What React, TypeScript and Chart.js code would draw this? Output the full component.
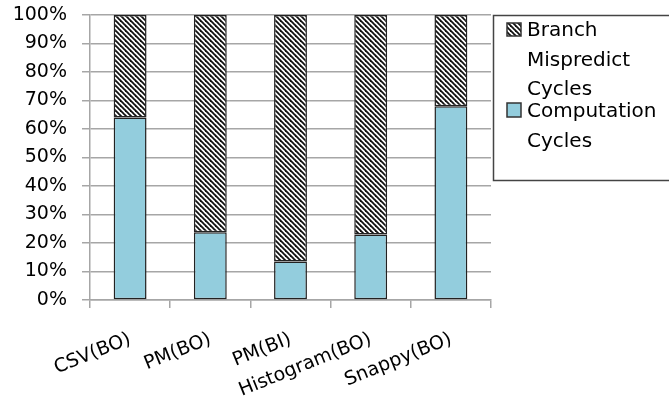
import React, { useEffect, useRef } from "react";
import { Chart, registerables } from "chart.js";

Chart.register(...registerables);

const categories = ["CSV(BO)", "PM(BO)", "PM(BI)", "Histogram(BO)", "Snappy(BO)"];
const computationCycles = [64, 23.8, 13.5, 23, 68];
const branchMispredictCycles = [36, 76.2, 86.5, 77, 32];
const yTicks = [0, 10, 20, 30, 40, 50, 60, 70, 80, 90, 100];
const branchLegendLines = ["Branch", "Mispredict", "Cycles"];
const computationLegendLines = ["Computation", "Cycles"];

const BLUE = "#93cddd";
const GRID = "#a6a6a6";
const FONT = "'DejaVu Sans', sans-serif";

function makeHatch(): CanvasPattern | string {
  const s = 5;
  const c = document.createElement("canvas");
  c.width = s;
  c.height = s;
  const g = c.getContext("2d");
  if (!g) return "#fff";
  g.fillStyle = "#ffffff";
  g.fillRect(0, 0, s, s);
  g.strokeStyle = "#111";
  g.lineWidth = 1.8;
  for (let k = -1; k <= 1; k++) {
    g.beginPath();
    g.moveTo(-1, k * s - 1);
    g.lineTo(s + 1, k * s + s + 1);
    g.stroke();
  }
  const p = g.createPattern(c, "repeat");
  return p || "#fff";
}

export default function App() {
  const ref = useRef<HTMLCanvasElement | null>(null);

  useEffect(() => {
    if (!ref.current) return;
    const hatch = makeHatch();

    const legendPlugin = {
      id: "customLegend",
      afterDraw(chart: any) {
        const ctx = chart.ctx as CanvasRenderingContext2D;
        ctx.save();
        ctx.strokeStyle = "#444";
        ctx.lineWidth = 1.5;
        ctx.strokeRect(493.5, 15.5, 200, 165);
        ctx.font = `20px ${FONT}`;
        ctx.textBaseline = "alphabetic";
        ctx.textAlign = "left";
        ctx.strokeStyle = "#333";
        ctx.lineWidth = 1.5;
        // Branch item
        ctx.fillStyle = hatch as any;
        ctx.fillRect(507, 23, 14, 13);
        ctx.strokeRect(507, 23, 14, 13);
        ctx.fillStyle = "#000";
        const bBase = [36, 66, 95];
        branchLegendLines.forEach((t, i) => ctx.fillText(t, 527, bBase[i]));
        // Computation item
        ctx.fillStyle = BLUE;
        ctx.fillRect(507, 103, 14, 14);
        ctx.strokeRect(507, 103, 14, 14);
        ctx.fillStyle = "#000";
        const cBase = [117, 147];
        computationLegendLines.forEach((t, i) => ctx.fillText(t, 527, cBase[i]));
        ctx.restore();
      },
    };

    const chart = new Chart(ref.current, {
      type: "bar",
      data: {
        labels: categories,
        datasets: [
          {
            label: "Computation Cycles",
            data: computationCycles,
            backgroundColor: BLUE,
            borderColor: "#222",
            borderWidth: 1.5,
            borderSkipped: false,
            categoryPercentage: 1,
            barPercentage: 0.41,
          },
          {
            label: "Branch Mispredict Cycles",
            data: branchMispredictCycles,
            backgroundColor: hatch as any,
            borderColor: "#222",
            borderWidth: 1.5,
            borderSkipped: false,
            categoryPercentage: 1,
            barPercentage: 0.41,
          },
        ],
      },
      options: {
        responsive: false,
        animation: false,
        layout: { padding: { top: 15, right: 178, left: 0, bottom: 0 } },
        plugins: {
          legend: { display: false },
          tooltip: { enabled: false },
        },
        scales: {
          x: {
            stacked: true,
            grid: {
              drawOnChartArea: false,
              drawTicks: true,
              tickLength: 8,
              color: GRID,
              lineWidth: 1.5,
            },
            border: { display: true, color: GRID, width: 1.5 },
            ticks: {
              color: "#000",
              font: { family: FONT, size: 19 },
              minRotation: 22,
              maxRotation: 22,
              autoSkip: false,
              padding: 20,
            },
            afterFit(scale: any) {
              scale.height = 105;
              scale.paddingLeft = 0;
              scale.paddingRight = 0;
            },
          },
          y: {
            stacked: true,
            min: 0,
            max: 100,
            afterBuildTicks(scale: any) {
              scale.ticks = yTicks.map((v) => ({ value: v }));
            },
            grid: {
              color: GRID,
              lineWidth: 1.5,
              tickLength: 8,
            },
            border: { display: true, color: GRID, width: 1.5 },
            ticks: {
              color: "#000",
              font: { family: FONT, size: 19 },
              padding: 15,
              callback: (v: any) => `${v}%`,
            },
            afterFit(scale: any) {
              scale.width = 90;
              scale.paddingTop = 0;
              scale.paddingBottom = 0;
            },
          },
        },
      },
      plugins: [legendPlugin],
    });
    return () => chart.destroy();
  }, []);

  return (
    <div style={{ position: "fixed", left: 0, top: 0, width: 669, height: 405 }}>
      <canvas ref={ref} width={669} height={405} />
    </div>
  );
}
